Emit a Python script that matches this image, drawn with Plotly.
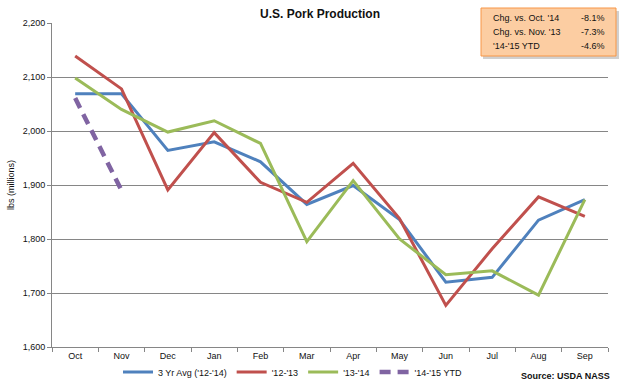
import plotly.graph_objects as go

months = ["Oct", "Nov", "Dec", "Jan", "Feb", "Mar", "Apr", "May", "Jun", "Jul", "Aug", "Sep"]
avg_12_14 = [2069, 2069, 1964, 1980, 1943, 1864, 1899, 1836, 1720, 1729, 1835, 1873]
y_12_13 = [2139, 2078, 1891, 1997, 1905, 1868, 1940, 1838, 1677, 1782, 1878, 1842]
y_13_14 = [2098, 2040, 1998, 2019, 1977, 1795, 1908, 1800, 1734, 1741, 1696, 1873]
ytd_14_15_months = ["Oct", "Nov"]
ytd_14_15 = [2061, 1890]

box_labels = ["Chg. vs. Oct. '14", "Chg. vs. Nov. '13", "'14-'15 YTD"]
box_values = ["-8.1%", "-7.3%", "-4.6%"]

FONT = "Liberation Sans"
TXT = "#111"
W, H = 628, 388

fig = go.Figure()
fig.add_trace(go.Scatter(x=months, y=avg_12_14, mode="lines", name="3 Yr Avg ('12-'14)",
                         line=dict(color="#4F81BD", width=3)))
fig.add_trace(go.Scatter(x=months, y=y_12_13, mode="lines", name="'12-'13",
                         line=dict(color="#C0504D", width=3)))
fig.add_trace(go.Scatter(x=months, y=y_13_14, mode="lines", name="'13-'14",
                         line=dict(color="#9BBB59", width=3)))
fig.add_trace(go.Scatter(x=ytd_14_15_months, y=ytd_14_15, mode="lines", name="'14-'15 YTD",
                         line=dict(color="#8064A2", width=4.5, dash="11px,7px")))

# paper coords: x 0->52px, 1->608px; y 0->347px, 1->23px
def px_x(p):
    return (p - 52) / 556.0

def px_y(p):
    return (347 - p) / 324.0

fig.add_shape(type="rect", xref="paper", yref="paper",
              x0=px_x(483), x1=px_x(619), y0=px_y(59), y1=px_y(11),
              fillcolor="rgba(120,120,120,0.35)", line=dict(width=0), layer="above")
fig.add_shape(type="rect", xref="paper", yref="paper",
              x0=px_x(481), x1=px_x(616), y0=px_y(56), y1=px_y(8),
              fillcolor="#FCCDA2", line=dict(color="#F79646", width=1), layer="above")

line_ys = [18, 32, 46]
for lab, val, yy in zip(box_labels, box_values, line_ys):
    fig.add_annotation(xref="paper", yref="paper", x=px_x(491), y=px_y(yy), text=lab,
                       showarrow=False, xanchor="left", yanchor="middle",
                       font=dict(family=FONT, size=9, color=TXT))
    fig.add_annotation(xref="paper", yref="paper", x=px_x(607), y=px_y(yy), text=val,
                       showarrow=False, xanchor="right", yanchor="middle",
                       font=dict(family=FONT, size=9, color=TXT))

fig.add_annotation(xref="paper", yref="paper", x=px_x(320), y=px_y(14),
                   text="<b>U.S. Pork Production</b>", showarrow=False,
                   xanchor="center", yanchor="middle",
                   font=dict(family=FONT, size=12, color=TXT))

fig.add_annotation(xref="paper", yref="paper", x=px_x(612), y=px_y(376),
                   text="<b>Source: USDA NASS</b>", showarrow=False,
                   xanchor="right", yanchor="middle",
                   font=dict(family=FONT, size=9, color=TXT))

fig.update_layout(
    width=W, height=H,
    margin=dict(l=52, r=20, t=23, b=41),
    paper_bgcolor="white", plot_bgcolor="white",
    font=dict(family=FONT, size=9, color=TXT),
    showlegend=True,
    legend=dict(orientation="h", xref="container", yref="container",
                x=118 / W, xanchor="left", y=1 - 372 / H, yanchor="middle",
                font=dict(family=FONT, size=9, color=TXT), bgcolor="rgba(0,0,0,0)",
                itemwidth=30, tracegroupgap=0),
)
fig.update_xaxes(type="category", categoryorder="array", categoryarray=months,
                 range=[-0.5, 11.5], showgrid=False, showline=True, linecolor="#868686",
                 linewidth=1, ticks="outside", tickson="boundaries", ticklen=4,
                 tickcolor="#868686", tickfont=dict(family=FONT, size=9, color=TXT),
                 automargin=False, fixedrange=True)
fig.update_yaxes(range=[1600, 2200], dtick=100, tickformat=",", showgrid=True,
                 gridcolor="#868686", gridwidth=1, showline=True, linecolor="#868686",
                 linewidth=1, ticks="outside", ticklen=4, tickcolor="#868686",
                 zeroline=False, tickfont=dict(family=FONT, size=9, color=TXT),
                 automargin=False, fixedrange=True,
                 title=dict(text="lbs (millions)", font=dict(family=FONT, size=9, color=TXT),
                            standoff=6))

fig.write_html("out.html",
               config={"displayModeBar": False, "staticPlot": True},
               post_script="document.body.style.margin='0';document.body.style.padding='0';")
